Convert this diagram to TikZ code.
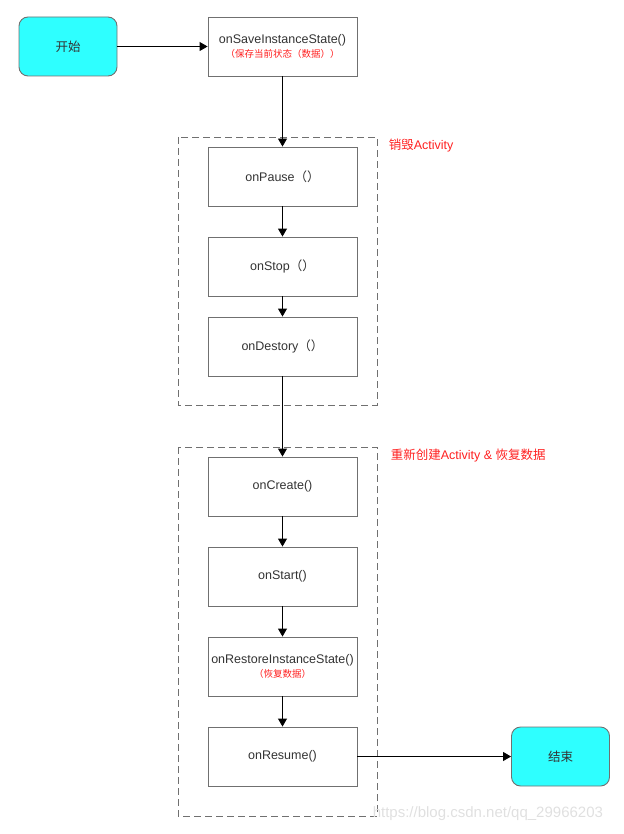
\documentclass[tikz,border=0pt]{standalone}
\usepackage{fontspec}
\setmainfont{Liberation Sans}
\newfontfamily\cjk{Noto Sans CJK SC}
\usetikzlibrary{arrows.meta}

\definecolor{termcyan}{HTML}{2EFFFF}
\definecolor{boxgray}{HTML}{707070}
\definecolor{notered}{HTML}{FF2020}

\newcommand{\subnote}[1]{{\color{notered}\fontsize{9.5}{11}\cjk #1}}

\tikzset{
    stepbox/.style={draw=boxgray,line width=0.9pt,minimum width=149pt,minimum height=59pt,
        align=center,font=\fontsize{12.5}{15}\selectfont,text=black!80},
    termbox/.style={stepbox,fill=termcyan,rounded corners=9pt,minimum width=98pt},
    groupbox/.style={draw=boxgray,line width=0.8pt,dash pattern=on 7pt off 4pt},
    note/.style={text=notered,anchor=west,font=\fontsize{12.5}{14}\selectfont},
}

\begin{document}
\begin{tikzpicture}[x=1pt,y=-1pt,>={Triangle[length=8pt,width=9pt]},line width=0.9pt]
    \useasboundingbox (0,0) rectangle (623,834);

    % Gruppen (gestrichelt)
    \draw[groupbox] (178,137) rectangle (377,405);
    \draw[groupbox] (178,447) rectangle (377,816);
    \node[note] (destroylbl) at (385,146) {{\cjk 销毁}Activity};
    \node[note] (recreatelbl) at (387,456) {{\cjk 重新创建}Activity \& {\cjk 恢复数据}};

    % Start und Speichern
    \node[termbox] (start) at (68,46.5) {\cjk 开始};
    \node[stepbox] (save) at (282.5,46.5)
        {onSaveInstanceState()\\[-1pt]\subnote{（保存当前状态（数据））}};

    % Activity zerstoeren
    \node[stepbox] (pause) at (282.5,176.5) {onPause{\cjk （）}};
    \node[stepbox] (stop) at (282.5,266.5) {onStop{\cjk （）}};
    \node[stepbox] (destory) at (282.5,346.5) {onDestory{\cjk （）}};

    % Activity neu anlegen
    \node[stepbox] (create) at (282.5,486.5) {onCreate()};
    \node[stepbox] (startcb) at (282.5,576.5) {onStart()};
    \node[stepbox] (restore) at (282.5,666.5)
        {onRestoreInstanceState()\\[-1pt]\subnote{（恢复数据）}};
    \node[stepbox] (resume) at (282.5,756.5) {onResume()};
    \node[termbox] (finish) at (560.5,756.5) {\cjk 结束};

    % Verbindungen
    \draw[->] (start) -- (save);
    \draw[->] (save) -- (pause);
    \draw[->] (pause) -- (stop);
    \draw[->] (stop) -- (destory);
    \draw[->] (destory) -- (create);
    \draw[->] (create) -- (startcb);
    \draw[->] (startcb) -- (restore);
    \draw[->] (restore) -- (resume);
    \draw[->] (resume) -- (finish);

    \node[text=black!12,anchor=west,font=\fontsize{15}{17}\selectfont] (mark) at (369,814)
        {https://blog.csdn.net/qq\_29966203};
\end{tikzpicture}
\end{document}
